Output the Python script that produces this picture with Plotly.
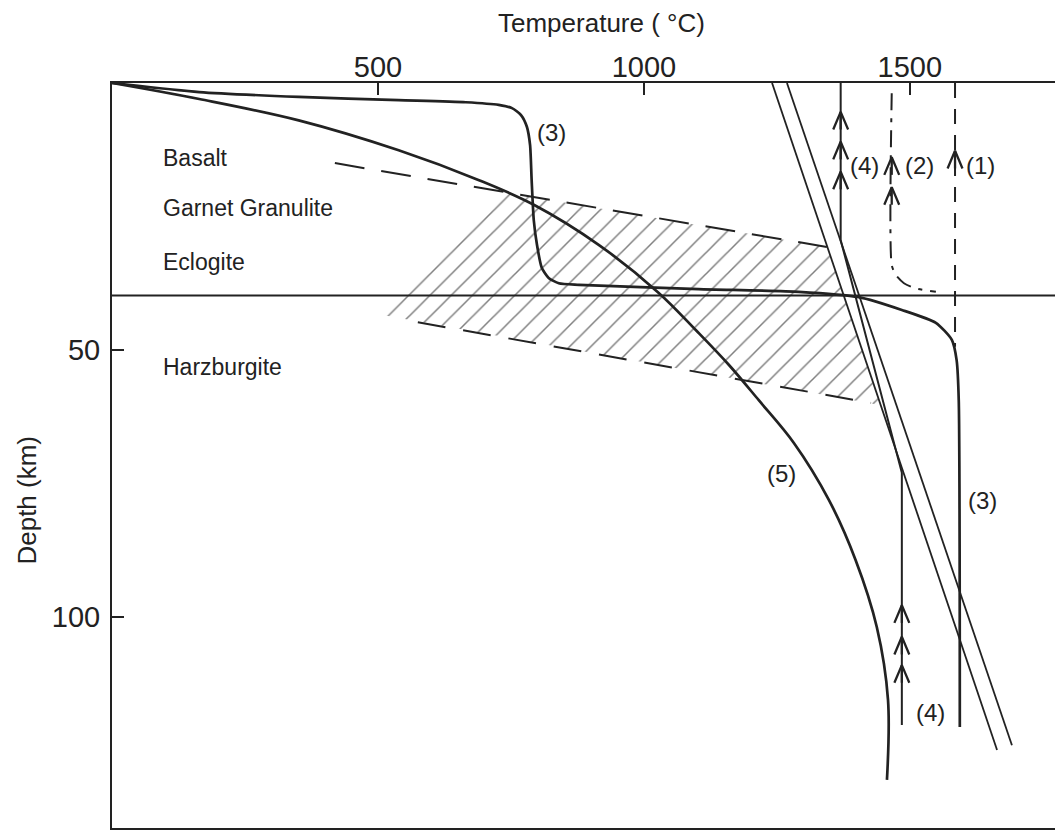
import plotly.graph_objects as go

# ---------------- data (temperature in deg C, depth in km) ----------------
x_ticks = [500, 1000, 1500]
y_ticks = [50, 100]
x_range = [0, 1788]
y_range = [139.5, 0]

# curve (3)
c3_T = [0, 164, 351, 539, 665, 727, 752, 769, 780, 786, 789, 793, 799, 808, 821, 840, 878,
        1103, 1291, 1404, 1485, 1549, 1579, 1588, 1592, 1594]
c3_D = [0, 1.7, 2.6, 3.2, 3.6, 4.1, 4.7, 6.0, 8.2, 11.6, 18.2, 25.7, 30.3, 34.6, 36.5, 37.5, 37.8,
        38.6, 39.1, 40.1, 42.5, 44.9, 48.1, 51.9, 59.4, 120.6]

# curve (5)
c5_T = [0, 164, 351, 539, 690, 793, 915, 1028, 1098, 1160, 1216, 1282, 1348, 1398, 1438, 1459, 1457]
c5_D = [0, 3.0, 7.0, 12.6, 18.2, 22.8, 30.3, 39.3, 46.3, 52.8, 59.4, 67.4, 78.1, 89.3, 101.9, 115.5, 130.5]

# two parallel straight lines
lineA_T = [1241, 1664]
lineA_D = [0, 124.9]
lineB_T = [1269, 1692]
lineB_D = [0, 124.0]

# path (4)
p4_T = [1370, 1370, 1485, 1485]
p4_D = [0, 29.4, 73.0, 120.2]

# path (1) dashed
p1_T = [1585, 1585]
p1_D = [0, 49.4]

# path (2) dash-dot
p2_T = [1466, 1466, 1474, 1489, 1509, 1549]
p2_D = [1.9, 34.1, 36.0, 37.5, 38.4, 39.1]

# phase boundaries (dashed)
upper_T = [419, 1344]
upper_D = [15.0, 30.7]
lower_T = [575, 1427]
lower_D = [44.8, 59.9]

# hatched field
hatch_T = [746, 1344, 1444, 506]
hatch_D = [20.6, 30.7, 60.3, 43.4]

moho_depth = 39.8

# arrow tips (temperature, depth) on the paths
arrow_T = [1370, 1370, 1370, 1485, 1485, 1485, 1466, 1466, 1585]
arrow_D = [5.4, 11.0, 16.6, 97.8, 103.7, 109.0, 13.9, 19.5, 12.7]

# labels
curve_labels = [
    ("(3)", 827, 9.2),
    ("(4)", 1415, 15.5),
    ("(2)", 1519, 15.5),
    ("(1)", 1632, 15.5),
    ("(5)", 1259, 73.2),
    ("(3)", 1637, 78.1),
    ("(4)", 1538, 117.8),
]
rock_labels = [
    ("Basalt", 92, 14.0),
    ("Garnet Granulite", 92, 23.4),
    ("Eclogite", 92, 33.5),
    ("Harzburgite", 92, 53.2),
]

INK = "#222222"
FONT = "Liberation Sans, Arial, Helvetica, sans-serif"
CHEV_HALF_W = 14.0   # chevron half width (deg C)
CHEV_H = 3.3         # chevron height (km)

fig = go.Figure()

# hatched region
fig.add_trace(go.Scatter(
    x=hatch_T + [hatch_T[0]], y=hatch_D + [hatch_D[0]],
    mode="lines", fill="toself",
    line=dict(width=0, color="rgba(0,0,0,0)"),
    fillcolor="white",
    fillpattern=dict(shape="/", size=15, solidity=0.1, fgcolor="#000000", bgcolor="white"),
    hoverinfo="skip", showlegend=False))


def add_line(x, y, width=2.2, dash="solid", shape="linear", smoothing=0.6):
    fig.add_trace(go.Scatter(
        x=x, y=y, mode="lines",
        line=dict(color=INK, width=width, dash=dash, shape=shape, smoothing=smoothing),
        hoverinfo="skip", showlegend=False))


add_line(upper_T, upper_D, width=2, dash="30px,17px")
add_line(lower_T, lower_D, width=2, dash="28px,18px")
add_line(c3_T, c3_D, width=2.7, shape="spline")
add_line(c5_T, c5_D, width=2.7, shape="spline", smoothing=1.0)
add_line(lineA_T, lineA_D, width=1.8)
add_line(lineB_T, lineB_D, width=1.8)
add_line(p4_T, p4_D, width=2)
add_line(p1_T, p1_D, width=2, dash="15px,11px")
add_line(p2_T, p2_D, width=2, dash="17px,8px,4px,8px", shape="spline")

# chevron arrow heads pointing up, built from the tip lists
chev_x, chev_y = [], []
for T, d in zip(arrow_T, arrow_D):
    chev_x += [T - CHEV_HALF_W, T, T + CHEV_HALF_W, None]
    chev_y += [d + CHEV_H, d, d + CHEV_H, None]
    # short solid shaft under each head
    chev_x += [T, T, None]
    chev_y += [d, d + CHEV_H, None]
fig.add_trace(go.Scatter(x=chev_x, y=chev_y, mode="lines",
                         line=dict(color=INK, width=2.3), hoverinfo="skip", showlegend=False))

fig.add_shape(type="line", xref="paper", x0=0, x1=1, yref="y", y0=moho_depth, y1=moho_depth,
              line=dict(color=INK, width=2))

for txt, T, d in curve_labels:
    fig.add_annotation(x=T, y=d, text=txt, showarrow=False, xanchor="center", yanchor="middle",
                       font=dict(size=24, color=INK, family=FONT))

for txt, T, d in rock_labels:
    fig.add_annotation(x=T, y=d, text=txt, showarrow=False, xanchor="left", yanchor="middle",
                       font=dict(size=23, color=INK, family=FONT))

fig.add_annotation(x=0.515, y=1.08, xref="paper", yref="paper", text="Temperature ( °C)",
                   showarrow=False, xanchor="center", yanchor="middle", borderpad=0,
                   font=dict(size=26, color=INK, family=FONT))
fig.add_annotation(x=-0.089, y=0.44, xref="paper", yref="paper", text="Depth (km)",
                   showarrow=False, xanchor="center", yanchor="middle", textangle=-90,
                   borderpad=0, font=dict(size=26, color=INK, family=FONT))

# the page body adds an 8px margin, so the figure is 8px smaller on each side
fig.update_layout(
    width=1055, height=822,
    margin=dict(l=104, r=0, t=75, b=2),
    paper_bgcolor="white", plot_bgcolor="white",
    showlegend=False,
    font=dict(family=FONT, color=INK),
)
fig.update_xaxes(range=x_range, side="top", tickvals=x_ticks, ticks="inside", ticklen=12,
                 tickwidth=2, tickcolor=INK, showline=True, linewidth=2, linecolor=INK,
                 mirror=True, showgrid=False, zeroline=False, tickfont=dict(size=29, color=INK),
                 ticklabelstandoff=-8)
fig.update_yaxes(range=y_range, tickvals=y_ticks, ticks="inside", ticklen=12, tickwidth=2,
                 tickcolor=INK, showline=True, linewidth=2, linecolor=INK, mirror=False,
                 showgrid=False, zeroline=False, tickfont=dict(size=29, color=INK),
                 ticklabelstandoff=4)

fig.write_html("out.html")
